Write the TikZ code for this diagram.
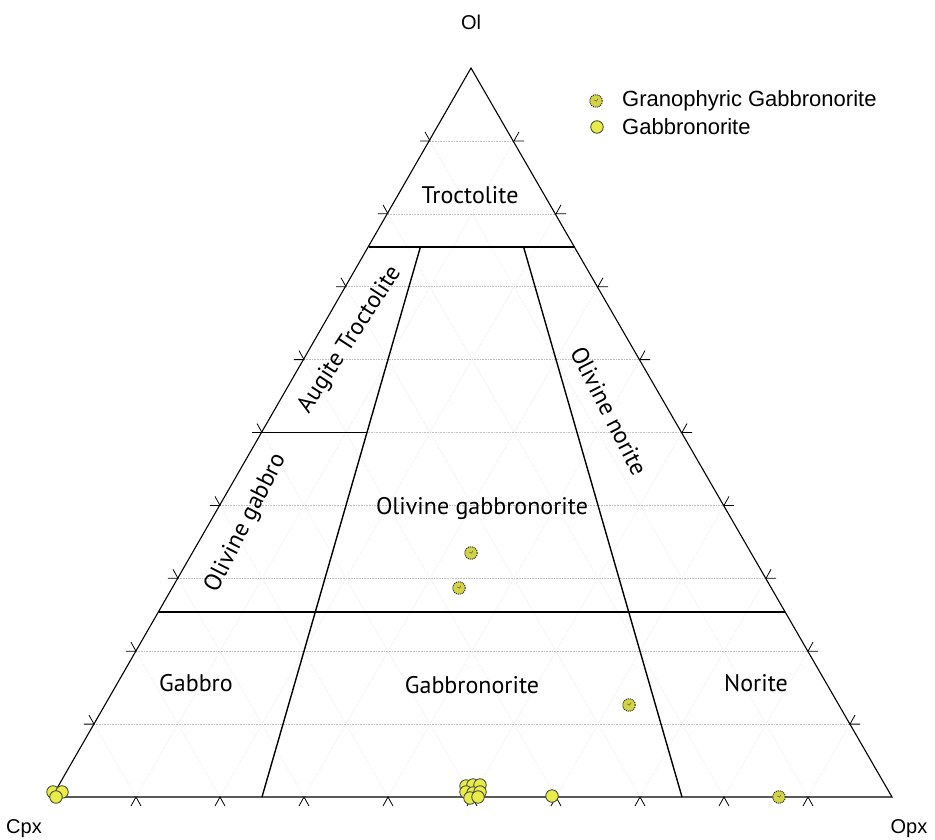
\documentclass[tikz,border=0pt]{standalone}
\usepackage{fontspec}
\setmainfont{Liberation Sans}
\newfontfamily\regfont{PT Sans}
\begin{document}
\begin{tikzpicture}[x=1pt,y=-1pt,
  edge/.style={line width=1.1pt,black},
  bound/.style={line width=1.4pt,black},
  gridh/.style={gray!50,densely dotted,line width=0.6pt},
  gridd/.style={gray!25,densely dotted,line width=0.5pt},
  tick/.style={black,line width=0.8pt},
  reglab/.style={font=\regfont\fontsize{24}{27}\selectfont,inner sep=0pt},
  vlab/.style={font=\fontsize{20}{24}\selectfont,inner sep=0pt},
  leglab/.style={font=\fontsize{22}{26}\selectfont,inner sep=0pt,anchor=west},
  gn/.style={circle,draw=black!75,line width=0.8pt,fill={rgb,255:red,232;green,236;blue,72},minimum size=12.5pt,inner sep=0pt},
  gg/.style={circle,draw=black!85,densely dotted,line width=1pt,fill={rgb,255:red,210;green,212;blue,66},minimum size=12.5pt,inner sep=0pt,
     path picture={\draw[black!60,line width=0.6pt,solid] ([xshift=-1.8pt,yshift=1pt]path picture bounding box.center) arc[start angle=200,end angle=380,radius=1.9pt];}}
]
\useasboundingbox (0,0) rectangle (935,840);
\fill[white] (0,0) rectangle (935,840);
% vertices
\coordinate (OL) at (471,68);
\coordinate (CPX) at (52,797);
\coordinate (OPX) at (892,797);
% grid and ticks
\foreach \k in {1,...,9}{
  \pgfmathsetmacro\a{\k/10}
  \coordinate (hl) at ({52+420*\a},{797-729*\a});
  \coordinate (hr) at ({892-420*\a},{797-729*\a});
  \coordinate (bb) at ({52+840*\a},797);
  \coordinate (rt) at ({472+420*\a},{68+729*\a});
  \draw[gridh] (hl) -- (hr);
  \draw[gridd] (bb) -- (rt);
  \draw[gridd] (bb) -- (hl);
  \draw[tick] ([shift={(-5,9)}]bb) -- (bb) -- ([shift={(5,9)}]bb);
  \draw[tick] ([shift={(-10,0)}]hl) -- (hl) -- ([shift={(-5,-9)}]hl);
  \draw[tick] ([shift={(10,0)}]hr) -- (hr) -- ([shift={(5,-9)}]hr);
}
% triangle
\draw[edge,line join=miter] (OL) -- (CPX) -- (OPX) -- cycle;
% field boundaries
\coordinate (t1) at (368.9,247);
\coordinate (t2) at (575.1,247);
\coordinate (il75) at (420.4,247);
\coordinate (ir75) at (523.6,247);
\coordinate (ib1) at (262,797);
\coordinate (ib2) at (682,797);
\coordinate (g1) at (262,432.5);
\coordinate (g2) at (367,432.5);
\coordinate (h1) at (158.6,612);
\coordinate (h2) at (785.4,612);
\draw[bound] (t1) -- (t2);
\draw[bound] (il75) -- (ib1);
\draw[bound] (ir75) -- (ib2);
\draw[bound] (g1) -- (g2);
\draw[bound] (h1) -- (h2);
% region labels
\node[reglab] (troc) at (470,195) {Troctolite};
\node[reglab,rotate=57] (augtroc) at (350,340) {Augite Troctolite};
\node[reglab,rotate=63] (olgab) at (246,523) {Olivine gabbro};
\node[reglab,rotate=-63] (olnor) at (609,411) {Olivine norite};
\node[reglab] (olgn) at (482,508) {Olivine gabbronorite};
\node[reglab] (gab) at (196,683) {Gabbro};
\node[reglab] (gnr) at (472,685) {Gabbronorite};
\node[reglab] (nor) at (756,683) {Norite};
% vertex labels
\node[vlab] (lol) at (471,22) {Ol};
\node[vlab] (lcpx) at (24,829) {Cpx};
\node[vlab] (lopx) at (909,829) {Opx};
% legend
\node[gg] (leg1) at (596,101) {};
\node[leglab] (leg1t) at (622,101) {Granophyric Gabbronorite};
\node[gn] (leg2) at (597,127) {};
\node[leglab] (leg2t) at (622,127) {Gabbronorite};
% data: gabbronorite
\node[gn] (d1) at (53,792) {};
\node[gn] (d2) at (62,792) {};
\node[gn] (d3) at (56,797) {};
\node[gn] (d4) at (466,786) {};
\node[gn] (d5) at (473,785) {};
\node[gn] (d6) at (480,785) {};
\node[gn] (d7) at (466,792) {};
\node[gn] (d8) at (473,793) {};
\node[gn] (d9) at (480,792) {};
\node[gn] (d10) at (470,798) {};
\node[gn] (d11) at (478,797) {};
\node[gn] (d12) at (552,796) {};
% data: granophyric gabbronorite
\node[gg] (e1) at (471,553) {};
\node[gg] (e2) at (459,588) {};
\node[gg] (e3) at (629,705) {};
\node[gg] (e4) at (779,797) {};
\end{tikzpicture}
\end{document}
